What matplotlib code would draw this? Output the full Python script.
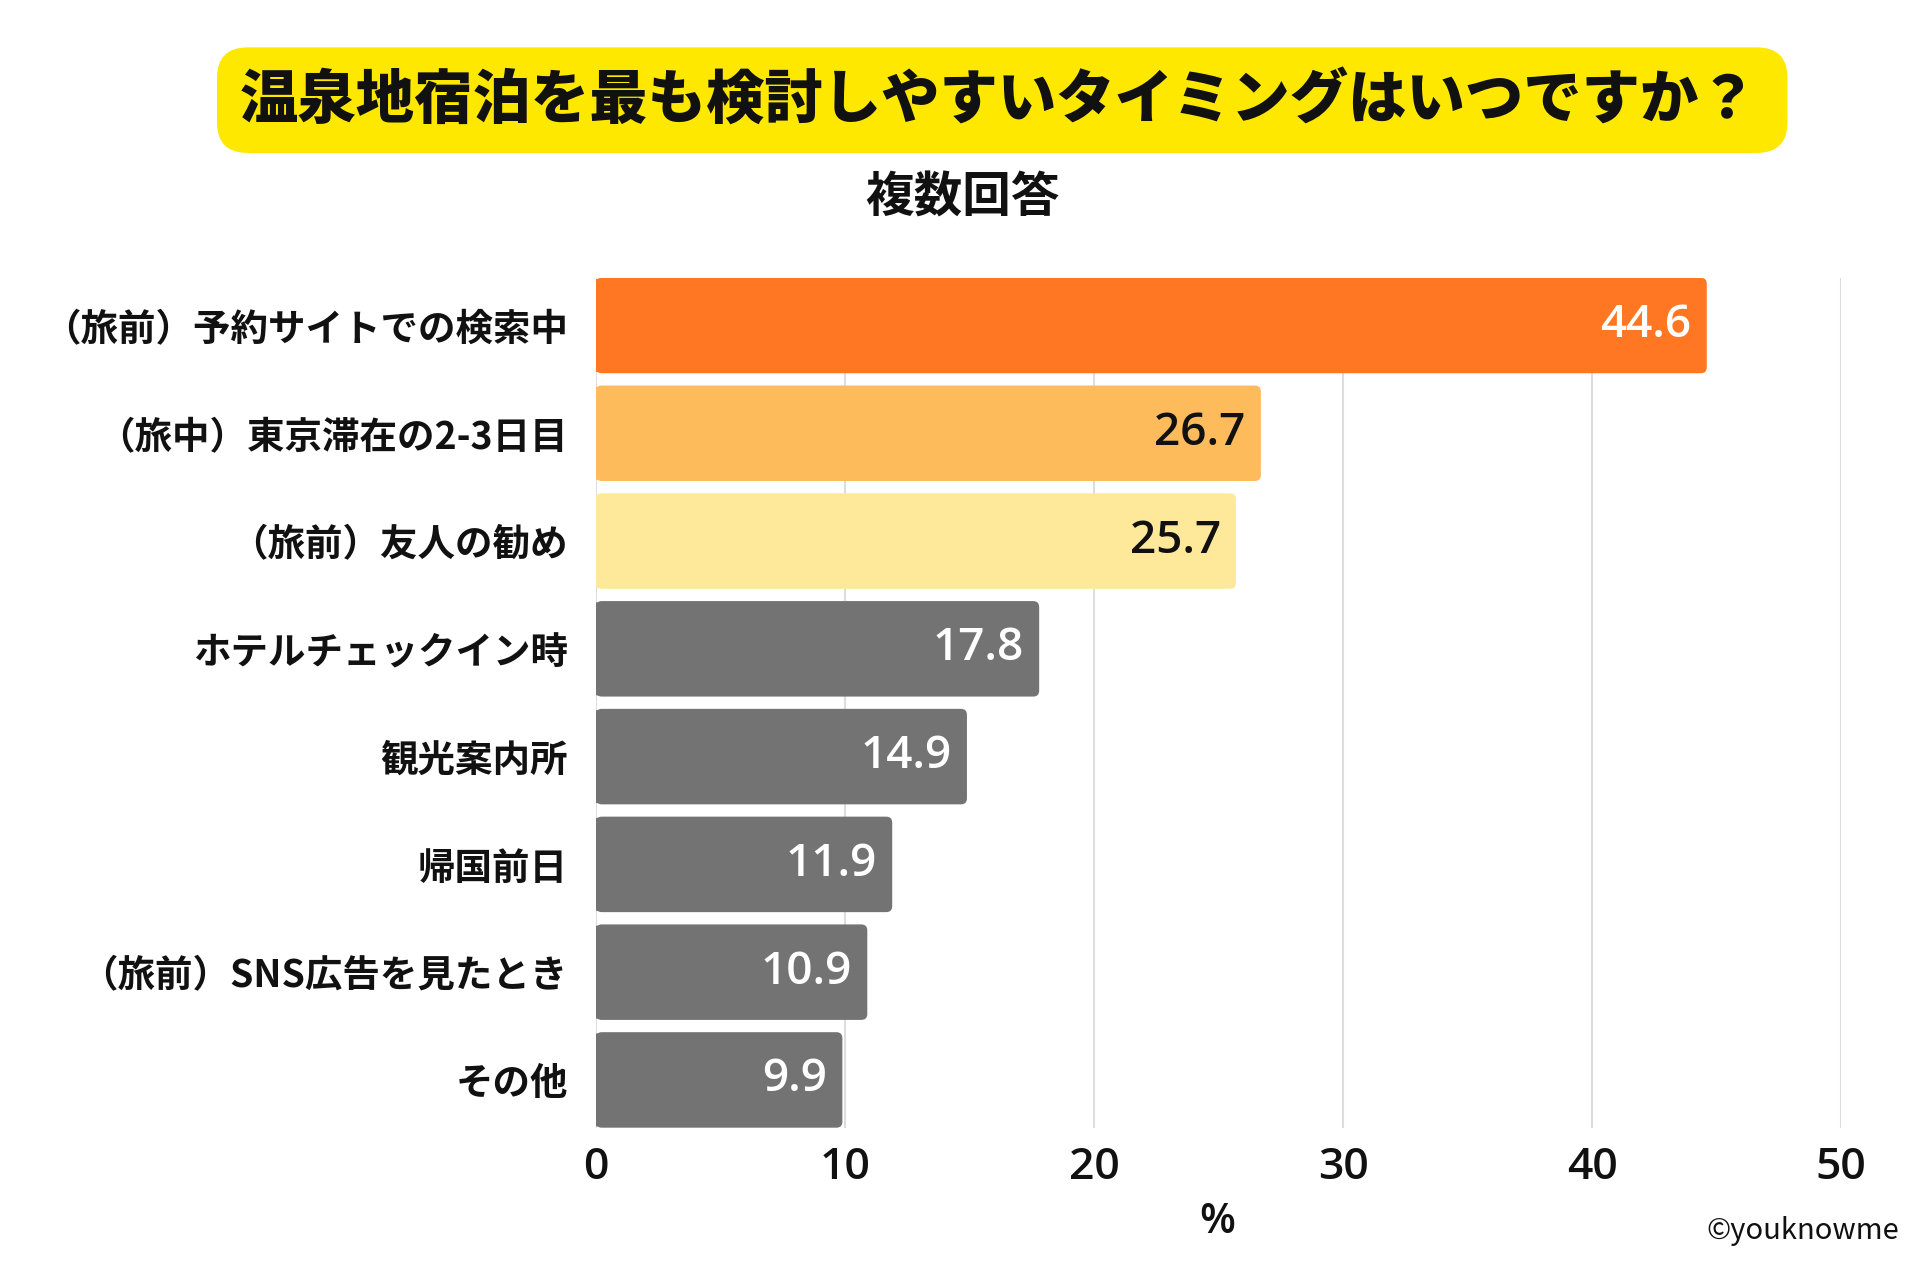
import matplotlib.pyplot as plt
from matplotlib.patches import FancyBboxPatch

plt.rcParams['font.family'] = ['Noto Sans CJK JP', 'DejaVu Sans']

title = "温泉地宿泊を最も検討しやすいタイミングはいつですか？"
subtitle = "複数回答"
categories = [
    "（旅前）予約サイトでの検索中",
    "（旅中）東京滞在の2-3日目",
    "（旅前）友人の勧め",
    "ホテルチェックイン時",
    "観光案内所",
    "帰国前日",
    "（旅前）SNS広告を見たとき",
    "その他",
]
values = [44.6, 26.7, 25.7, 17.8, 14.9, 11.9, 10.9, 9.9]
bar_colors = ["#FF7722", "#FDBB5C", "#FEE99B", "#737373",
              "#737373", "#737373", "#737373", "#737373"]
label_colors = ["white", "#111111", "#111111", "white",
                "white", "white", "white", "white"]
xticks = [0, 10, 20, 30, 40, 50]

num_font = ['Open Sans', 'DejaVu Sans']

fig = plt.figure(figsize=(19.2, 12.8), dpi=100)
ax = fig.add_axes([0.3103, 0.119, 0.6487, 0.664])

pos = list(range(len(categories)))
bars = ax.barh(pos, values, height=0.886, color=bar_colors, zorder=3)
# round the right end of each bar a little, keep the left edge (nearly) square
for rect, c in zip(bars, bar_colors):
    x, y = rect.get_x(), rect.get_y()
    w, h = rect.get_width(), rect.get_height()
    rnd = FancyBboxPatch((x, y), w, h, boxstyle="round,pad=0,rounding_size=0.24",
                         mutation_aspect=0.23, facecolor=c, edgecolor="none", zorder=3)
    rnd.set_snap(False)
    ax.add_patch(rnd)
    rect.set_width(w / 2)
    rect.set_y(y + 0.012)
    rect.set_height(h - 0.024)
    rect.set_snap(False)
    rect.set_zorder(3.5)

for p, v, c in zip(pos, values, label_colors):
    ax.annotate(f"{v:.1f}", (v, p), xytext=(-11, 0), textcoords="offset points",
                ha="right", va="center", fontsize=33, color=c, zorder=4,
                family=num_font, fontweight="semibold")

ax.set_xlim(0, 50)
ax.set_ylim(len(categories) - 0.557, -0.443)
ax.set_xticks(xticks)
ax.set_xticklabels([str(t) for t in xticks], fontsize=32, family=num_font, fontweight="semibold")
ax.set_yticks(pos)
ax.set_yticklabels(categories, fontsize=27, fontweight="bold")
ax.tick_params(axis="both", length=0, colors="#111111")
ax.tick_params(axis="x", pad=13)
ax.tick_params(axis="y", pad=20)
ax.grid(axis="x", color="#DDDDDD", linewidth=1.5, zorder=0)
for s in ax.spines.values():
    s.set_visible(False)

# title banner
box = FancyBboxPatch((0.113, 0.8805), 0.818, 0.0825,
                     boxstyle="round,pad=0,rounding_size=0.016",
                     transform=fig.transFigure, facecolor="#FFE800",
                     edgecolor="none", mutation_aspect=1.5)
fig.patches.append(box)
fig.text(0.520, 1 - 0.079, title, ha="center", va="center",
         fontsize=42, fontweight="heavy", color="#111111")
fig.text(0.5015, 1 - 0.155, subtitle, ha="center", va="center",
         fontsize=35, fontweight="bold", color="#111111")

fig.text(0.634, 1 - 0.955, "%", ha="center", va="center", fontsize=30,
         family=num_font, fontweight="semibold", color="#111111")
fig.text(0.989, 1 - 0.962, "©youknowme", ha="right", va="center", fontsize=21, color="#111111")

fig.savefig("out.png", dpi=100, facecolor="white")
